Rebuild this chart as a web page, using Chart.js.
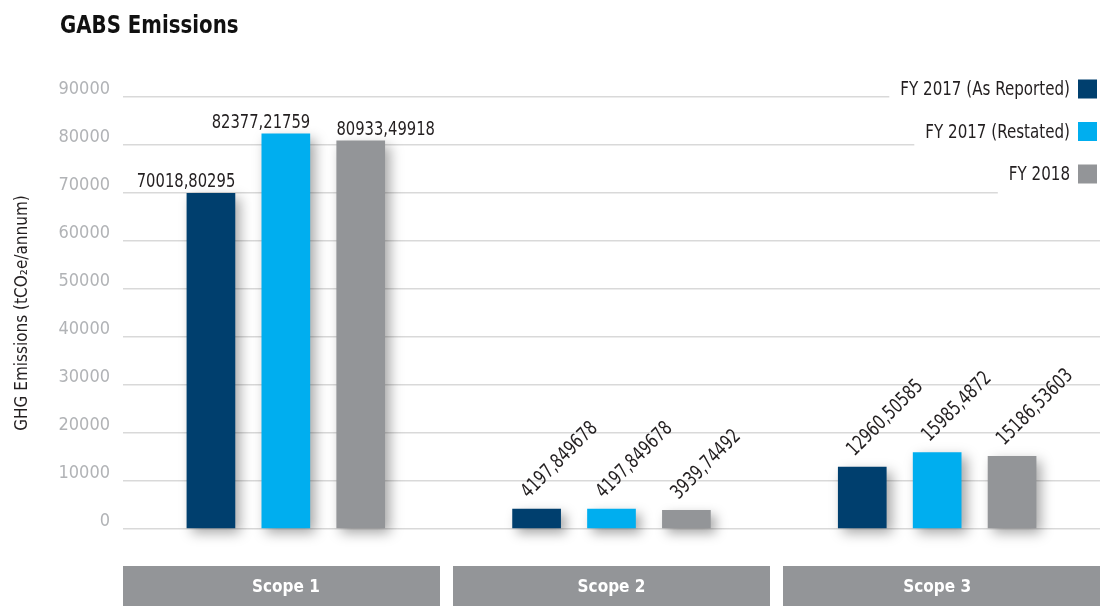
<!DOCTYPE html>
<html>
<head>
<meta charset="utf-8">
<title>GABS Emissions</title>
<script src="https://cdn.jsdelivr.net/npm/chart.js@4.4.0/dist/chart.umd.min.js"></script>
<style>
  html, body { margin: 0; padding: 0; background: #fff; }
</style>
</head>
<body>
<canvas id="chart" width="1104" height="606"></canvas>
<script>
const chartTitle = "GABS Emissions";
const axisTitle = "GHG Emissions (tCO\u2082e/annum)";
const scopes = ["Scope 1", "Scope 2", "Scope 3"];
const seriesNames = ["FY 2017 (As Reported)", "FY 2017 (Restated)", "FY 2018"];
const asReported = [70018.80295, 4197.849678, 12960.50585];
const restated = [82377.21759, 4197.849678, 15985.4872];
const fy2018 = [80933.49918, 3939.74492, 15186.53603];
const yTicks = [0, 10000, 20000, 30000, 40000, 50000, 60000, 70000, 80000, 90000];

const FONT = "'DejaVu Sans Condensed', 'DejaVu Sans', sans-serif";
const colors = ["#003f6e", "#00aeef", "#939598"];
// label rotation per scope, and how flat labels line up with their bar
const labelRotation = [0, -45, -45];
const flatAlign = ["right", "right", "left"];

const fmt = (v) => String(v).replace(".", ",");

// canvas text squeezed sideways, to get closer to the condensed face of the original
function narrowText(ctx, text, x, y, sx) {
  ctx.save();
  ctx.translate(x, y);
  ctx.scale(sx, 1);
  ctx.fillText(text, 0, 0);
  ctx.restore();
}

// grey boxes behind the scope names
const scopeBoxes = {
  id: "scopeBoxes",
  beforeDraw(chart) {
    const { ctx, chartArea } = chart;
    const gap = 13;
    const w = (chartArea.right - chartArea.left - gap * (scopes.length - 1)) / scopes.length;
    ctx.save();
    ctx.fillStyle = "#939598";
    scopes.forEach((s, i) => {
      ctx.fillRect(chartArea.left + i * (w + gap), chartArea.bottom + 37, w, chart.height - chartArea.bottom - 37);
    });
    ctx.restore();
  },
};

// bar shadows + value labels
const barExtras = {
  id: "barExtras",
  beforeDatasetsDraw(chart) {
    const ctx = chart.ctx;
    ctx.save();
    ctx.shadowColor = "rgba(0,0,0,0.35)";
    ctx.shadowBlur = 12;
    ctx.shadowOffsetX = 5;
    ctx.shadowOffsetY = 5;
  },
  afterDatasetsDraw(chart) {
    const ctx = chart.ctx;
    ctx.restore();
    ctx.save();
    ctx.fillStyle = "#231f20";
    ctx.font = "20px " + FONT;
    ctx.textBaseline = "alphabetic";
    chart.data.datasets.forEach((ds, di) => {
      const meta = chart.getDatasetMeta(di);
      meta.data.forEach((bar, i) => {
        const text = fmt(ds.data[i]);
        if (labelRotation[i]) {
          ctx.save();
          ctx.translate(bar.x - 8, bar.y - 10);
          ctx.rotate((labelRotation[i] * Math.PI) / 180);
          ctx.textAlign = "left";
          narrowText(ctx, text, 0, 0, 0.82);
          ctx.restore();
        } else {
          const a = flatAlign[di];
          let x = bar.x;
          if (a === "right") x = bar.x + bar.width / 2;
          if (a === "left") x = bar.x - bar.width / 2;
          ctx.textAlign = a;
          narrowText(ctx, text, x, bar.y - 6, 0.82);
        }
      });
    });
    ctx.restore();
  },
};

// title and legend (text left of the box)
const heading = {
  id: "heading",
  afterDraw(chart) {
    const { ctx, chartArea } = chart;
    ctx.save();
    ctx.fillStyle = "#111";
    ctx.font = "bold 25px " + FONT;
    ctx.textAlign = "left";
    ctx.textBaseline = "alphabetic";
    narrowText(ctx, chartTitle, 60, 33, 0.88);

    ctx.font = "20px " + FONT;
    const sx = 0.84;
    const box = 19;
    const boxRight = chartArea.right - 3;
    const textRight = boxRight - box - 8;
    chart.data.datasets.forEach((ds, i) => {
      const cy = chartArea.top - 8 + i * 42.5;
      const w = ctx.measureText(ds.label).width * sx;
      const x0 = textRight - w - 11;
      ctx.fillStyle = "#fff";
      ctx.fillRect(x0, cy - 20, chart.width - x0, 42);
      ctx.fillStyle = "#231f20";
      ctx.textAlign = "right";
      ctx.textBaseline = "middle";
      narrowText(ctx, ds.label, textRight, cy + 1, sx);
      ctx.fillStyle = ds.backgroundColor;
      ctx.fillRect(boxRight - box, cy - box / 2, box, box);
    });
    ctx.restore();
  },
};

const seriesData = [asReported, restated, fy2018];

new Chart(document.getElementById("chart"), {
  type: "bar",
  data: {
    labels: scopes,
    datasets: seriesNames.map((name, i) => ({
      label: name,
      data: seriesData[i],
      backgroundColor: colors[i],
      borderWidth: 0,
      categoryPercentage: 0.69,
      barPercentage: 0.65,
      clip: false,
    })),
  },
  options: {
    responsive: false,
    animation: false,
    layout: { padding: { top: 97, right: 4, bottom: 0, left: 8 } },
    plugins: {
      legend: { display: false },
      tooltip: { enabled: false },
    },
    scales: {
      x: {
        grid: { display: false, drawTicks: false },
        border: { display: false },
        ticks: {
          color: "#fff",
          font: { family: FONT, size: 17, weight: "bold" },
          padding: 48,
        },
        afterFit: (s) => { s.height = 77; },
      },
      y: {
        min: yTicks[0],
        max: yTicks[yTicks.length - 1],
        ticks: {
          stepSize: yTicks[1] - yTicks[0],
          color: "#b1b3b6",
          font: { family: FONT, size: 18 },
          padding: 13,
          labelOffset: -8,
          callback: (v) => String(v),
        },
        grid: { color: "#d9d9d9", lineWidth: 1.5, drawTicks: false },
        border: { display: false },
        title: {
          display: true,
          text: axisTitle,
          color: "#231f20",
          font: { family: FONT, size: 17 },
          padding: { top: 4, bottom: 0 },
        },
        afterFit: (s) => { s.width = 115; },
      },
    },
  },
  plugins: [scopeBoxes, barExtras, heading],
});
</script>
</body>
</html>
